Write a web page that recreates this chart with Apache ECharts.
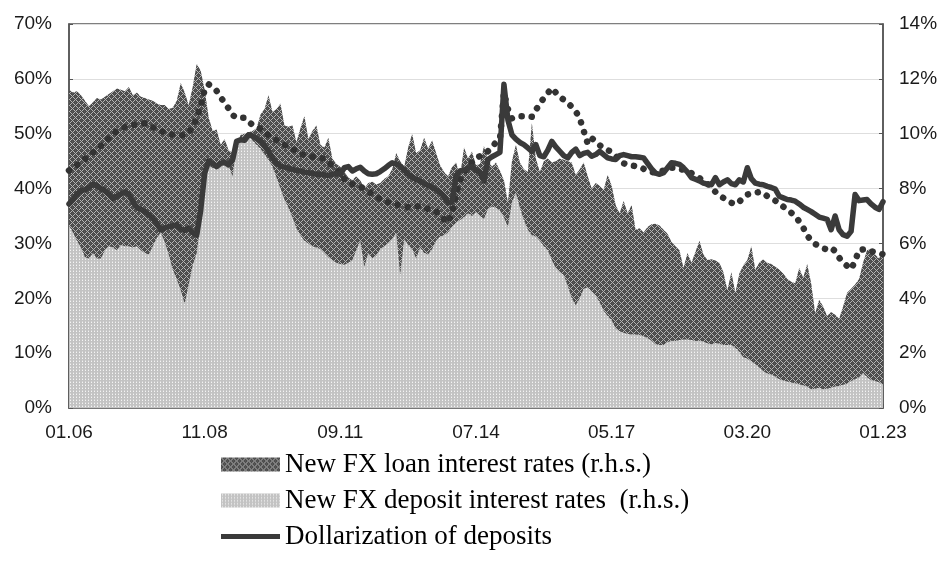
<!DOCTYPE html>
<html>
<head>
<meta charset="utf-8">
<script src="https://cdn.jsdelivr.net/npm/echarts@6/dist/echarts.min.js"></script>
<style>html,body{margin:0;padding:0;background:#fff}#chart{width:941px;height:561px}</style>
</head>
<body>
<div id="chart"></div>
<script>
// Monthly categories 01.06 .. 01.23
var months = [];
for (var y = 6; y <= 23; y++) {
  for (var m = 1; m <= 12; m++) {
    if (y === 23 && m > 1) break;
    months.push((m < 10 ? '0' : '') + m + '.' + (y < 10 ? '0' : '') + y);
  }
}
var leftTicks = [0, 10, 20, 30, 40, 50, 60, 70];
var rightTicks = [0, 2, 4, 6, 8, 10, 12, 14];

// Dollarization of deposits (l.h.s., %)
var dollarDeposits = [37.2,38.0,39.0,39.6,39.8,40.2,40.8,40.5,40.0,39.6,
 39.0,38.2,38.6,39.0,39.4,39.0,37.6,36.6,36.2,35.8,
 35.2,34.6,33.6,32.5,32.8,33.1,33.2,33.4,32.6,32.4,
 32.8,32.0,31.5,36.0,42.8,45.0,44.6,44.0,44.6,44.8,
 44.3,45.2,48.6,48.9,48.8,49.8,49.6,49.1,48.7,47.8,
 46.8,45.6,44.6,44.1,43.9,43.7,43.5,43.3,43.2,43.0,
 42.9,42.8,42.6,42.6,42.5,42.4,42.6,42.7,42.6,43.8,
 44.0,43.2,43.6,43.9,43.2,42.7,42.6,42.7,43.1,43.6,
 44.2,44.7,44.5,44.1,43.4,42.6,42.1,41.7,41.3,40.9,
 40.6,40.2,39.8,39.3,38.6,37.4,37.6,42.3,43.2,43.4,
 43.7,44.0,43.3,43.0,41.4,45.3,45.8,46.2,46.6,59.0,
 52.5,49.8,49.0,48.4,48.0,47.4,46.8,48.0,46.0,45.8,
 47.0,48.6,47.6,46.8,46.0,45.6,46.6,47.2,46.0,46.4,
 46.6,45.9,46.2,46.8,46.2,45.6,45.4,45.3,46.0,46.2,
 46.0,45.8,45.8,45.7,45.6,44.6,43.6,42.8,42.6,42.9,
 43.8,44.7,44.6,44.4,43.8,43.0,42.0,41.7,41.4,41.0,
 40.8,40.7,42.0,40.7,41.2,41.6,40.9,40.7,41.6,41.2,
 43.8,41.8,41.0,40.8,40.7,40.4,40.2,39.9,38.6,38.3,
 38.0,37.9,37.7,37.2,36.6,36.2,35.8,35.3,34.8,34.6,
 34.4,32.5,35.0,32.5,31.6,31.3,32.2,38.9,37.8,37.9,
 38.0,37.2,36.6,36.2,37.6];

// Dotted series (l.h.s., %), not in legend
var dottedSeries = [43.3,43.8,44.3,44.7,45.4,46.0,46.6,47.2,47.8,48.5,
 49.2,49.9,50.5,50.9,51.2,51.4,51.6,51.7,51.8,51.9,
 51.6,51.2,50.8,50.5,50.2,50.0,49.8,49.8,49.7,49.7,
 50.2,51.1,52.9,55.0,58.0,59.0,58.4,57.8,56.6,55.7,
 54.6,53.4,52.9,52.9,52.9,52.2,51.6,51.3,50.9,50.3,
 49.7,49.2,48.8,48.5,48.0,47.5,47.2,46.8,46.3,46.1,
 45.9,45.8,45.7,45.6,45.4,44.8,44.1,43.4,42.9,41.8,
 41.0,40.8,40.6,40.4,39.9,39.5,39.0,38.4,38.1,37.8,
 37.5,37.3,37.1,36.9,36.8,36.6,36.7,36.8,36.8,36.5,
 36.3,36.2,35.8,35.1,34.4,33.8,35.6,39.0,41.5,43.0,
 43.8,44.8,45.6,45.9,46.4,46.8,47.6,48.4,49.0,57.5,
 54.5,52.8,53.0,53.2,53.2,53.2,53.1,54.3,55.5,56.5,
 57.4,58.3,57.5,56.7,56.2,55.6,54.9,54.1,52.8,50.5,
 48.2,49.2,48.6,47.9,47.4,47.0,46.7,46.0,45.2,44.6,
 44.3,44.2,44.1,44.0,43.6,43.3,43.0,42.9,43.0,43.3,
 43.6,43.8,43.8,43.6,43.4,43.2,42.8,42.3,41.9,41.5,
 40.9,40.2,39.4,38.7,38.3,37.8,37.4,37.1,37.6,38.4,
 38.9,39.1,39.2,39.4,39.2,38.6,38.2,37.8,37.4,36.7,
 36.1,35.6,35.0,34.0,32.9,31.4,30.6,29.9,29.5,29.1,
 28.9,29.2,28.6,27.4,26.6,25.9,25.3,26.8,28.8,28.9,
 28.8,28.6,28.4,28.2,28.0];

// New FX loan interest rates (r.h.s., %)
var loanRates = [11.6,11.5,11.55,11.4,11.2,11.0,11.15,11.3,11.25,11.35,
 11.45,11.55,11.65,11.6,11.55,11.7,11.4,11.5,11.35,11.3,
 11.25,11.2,11.1,11.05,11.05,10.9,10.95,11.2,11.85,11.5,
 11.05,11.7,12.55,12.3,11.6,10.6,10.1,10.15,9.6,9.8,
 9.4,9.3,9.6,9.95,10.0,10.05,10.1,10.2,10.7,10.9,
 11.4,10.8,10.9,11.1,10.3,10.25,10.3,9.7,10.2,10.65,
 9.8,10.1,10.3,9.6,9.5,9.85,9.1,8.9,8.8,8.6,
 8.4,8.3,8.45,8.3,8.0,8.2,8.25,8.15,8.2,8.35,
 8.45,8.7,9.3,9.0,8.8,9.5,10.0,9.3,9.4,9.85,
 9.45,9.75,9.3,8.85,8.6,8.45,8.8,8.95,8.45,9.5,
 9.1,9.35,8.85,8.9,9.55,9.05,8.8,8.95,8.65,8.3,
 7.5,9.0,9.6,8.95,8.7,8.6,10.4,9.1,8.6,9.0,
 9.1,8.95,9.0,9.1,9.05,9.0,8.95,8.5,8.7,8.95,
 8.45,8.0,8.2,8.1,7.95,8.5,8.1,7.4,7.1,7.55,
 7.1,7.4,6.5,6.55,6.4,6.6,6.7,6.72,6.65,6.5,
 6.35,6.05,5.9,5.75,5.1,5.65,5.3,5.7,6.1,5.6,
 5.4,5.42,5.38,5.3,4.95,4.3,4.95,4.2,4.9,5.2,
 5.4,5.9,5.05,5.3,5.42,5.3,5.25,5.15,5.05,4.9,
 4.7,4.6,4.55,5.1,4.75,5.25,4.55,3.45,3.95,3.7,
 3.35,3.5,3.4,3.25,3.7,4.2,4.35,4.5,4.7,5.3,
 5.75,5.8,5.6,5.45,5.7];

// New FX deposit interest rates (r.h.s., %)
var depositRates = [6.65,6.4,6.1,5.85,5.5,5.45,5.65,5.45,5.45,5.75,
 5.9,5.85,5.75,5.95,5.9,5.9,5.85,5.9,5.75,5.65,
 5.6,5.9,6.2,6.4,6.05,5.6,5.05,4.7,4.3,3.8,
 4.5,5.2,5.65,6.8,8.1,8.85,8.75,8.78,8.88,8.85,
 8.82,8.45,9.6,9.85,9.9,9.98,9.75,9.6,9.45,9.25,
 9.05,8.8,8.4,8.0,7.6,7.3,6.95,6.55,6.3,6.1,
 6.0,5.9,5.85,5.8,5.65,5.5,5.4,5.3,5.25,5.22,
 5.3,5.4,5.75,6.1,5.15,5.65,5.45,5.55,5.8,5.9,
 6.0,6.15,6.4,4.85,6.15,5.95,5.8,5.45,5.85,5.65,
 5.6,5.8,6.1,6.25,6.3,6.4,6.6,6.75,6.85,6.95,
 7.1,7.0,7.15,7.0,6.9,7.25,7.35,7.3,7.2,6.95,
 6.6,7.5,7.85,7.3,6.85,6.5,6.3,6.25,6.1,5.9,
 5.75,5.4,5.1,4.95,4.85,4.45,4.0,3.75,4.0,4.35,
 4.4,4.25,4.1,3.85,3.55,3.35,3.2,2.9,2.8,2.74,
 2.7,2.68,2.68,2.66,2.62,2.55,2.45,2.32,2.3,2.3,
 2.4,2.45,2.44,2.48,2.5,2.5,2.48,2.44,2.45,2.42,
 2.35,2.32,2.37,2.34,2.3,2.3,2.3,2.2,2.05,1.85,
 1.8,1.7,1.6,1.48,1.35,1.25,1.22,1.15,1.05,1.0,
 0.97,0.93,0.9,0.87,0.82,0.78,0.68,0.7,0.74,0.68,
 0.7,0.74,0.78,0.8,0.85,0.88,0.98,1.05,1.12,1.28,
 1.12,1.02,0.98,0.94,0.85];

var NAME_LOAN = 'New FX loan interest rates (r.h.s.)';
var NAME_DEP = 'New FX deposit interest rates  (r.h.s.)';
var NAME_DOL = 'Dollarization of deposits';
var NAME_DOT = 'Dollarization of loans';

function makeTile(size, base, painter) {
  var c = document.createElement('canvas');
  c.width = size; c.height = size;
  var ctx = c.getContext('2d');
  ctx.fillStyle = base; ctx.fillRect(0, 0, size, size);
  for (var px = 0; px < size; px++) {
    for (var py = 0; py < size; py++) {
      var col = painter(px, py);
      if (col) { ctx.fillStyle = col; ctx.fillRect(px, py, 1, 1); }
    }
  }
  return { image: c, repeat: 'repeat' };
}
// dark crosshatch: dark diamonds separated by light diagonal lattice
var loanPattern = makeTile(6, '#4b4b4b', function (x, y) {
  if ((x + y) % 6 === 0 || ((x - y) + 6) % 6 === 0) return '#b4b4b4';
  if ((x + y) % 6 === 3 && ((x - y) + 6) % 6 === 3) return '#5e5e5e';
  return null;
});
// light dotted
var depPattern = makeTile(3, '#c3c3c3', function (x, y) {
  if (x === 1 && y === 1) return '#f4f4f4';
  if (x === 1 && y === 0) return '#d6d6d6';
  return null;
});

var axisFont = { fontFamily: 'Liberation Sans, Arial, sans-serif', fontSize: 19, color: '#1a1a1a' };

var chart = echarts.init(document.getElementById('chart'), null, { renderer: 'canvas' });
chart.setOption({
  animation: false,
  backgroundColor: '#fff',
  grid: { left: 69, right: 58, top: 24, height: 384, show: true, borderColor: '#555', borderWidth: 1.5, backgroundColor: 'transparent' },
  legend: {
    orient: 'vertical', left: 216, top: 446, itemGap: 9, itemWidth: 59, itemHeight: 14,
    symbolKeepAspect: true,
    textStyle: { fontFamily: 'Liberation Serif, Times New Roman, serif', fontSize: 27, color: '#000', lineHeight: 27 },
    data: [
      { name: NAME_LOAN, icon: 'rect', itemStyle: { color: loanPattern } },
      { name: NAME_DEP, icon: 'rect', itemStyle: { color: depPattern } },
      { name: NAME_DOL, icon: 'path://M0,0H60V5H0Z', itemStyle: { color: '#3a3a3a' } }
    ]
  },
  xAxis: {
    type: 'category', data: months, boundaryGap: false,
    axisLine: { lineStyle: { color: '#555', width: 1.5 } },
    axisTick: { inside: true, interval: 33, length: 4, lineStyle: { color: '#555' } },
    axisLabel: Object.assign({ interval: 33, margin: 15 }, axisFont),
    splitLine: { show: false }
  },
  yAxis: [
    {
      type: 'value', min: leftTicks[0], max: leftTicks[leftTicks.length - 1], interval: 10,
      axisLine: { show: true, lineStyle: { color: '#555', width: 1.5 } },
      axisTick: { show: true, inside: true, length: 4, lineStyle: { color: '#555' } },
      axisLabel: Object.assign({ formatter: '{value}%', margin: 17 }, axisFont),
      splitLine: { show: true, lineStyle: { color: '#dedede', width: 1 } }
    },
    {
      type: 'value', min: rightTicks[0], max: rightTicks[rightTicks.length - 1], interval: 2,
      position: 'right',
      axisLine: { show: true, lineStyle: { color: '#555', width: 1.5 } },
      axisTick: { show: true, inside: true, length: 4, lineStyle: { color: '#555' } },
      axisLabel: Object.assign({ formatter: '{value}%', margin: 16 }, axisFont),
      splitLine: { show: false }
    }
  ],
  series: [
    {
      name: NAME_LOAN, type: 'line', yAxisIndex: 1, data: loanRates, symbol: 'none',
      lineStyle: { width: 0, opacity: 0 }, itemStyle: { color: loanPattern },
      areaStyle: { color: loanPattern, opacity: 1 }, z: 1
    },
    {
      name: NAME_DEP, type: 'line', yAxisIndex: 1, data: depositRates, symbol: 'none',
      lineStyle: { width: 0, opacity: 0 }, itemStyle: { color: depPattern },
      areaStyle: { color: depPattern, opacity: 1 }, z: 2
    },
    {
      name: NAME_DOT, type: 'line', yAxisIndex: 0, data: dottedSeries, symbol: 'none',
      lineStyle: { color: '#333', width: 6.5, type: [0.1, 10], cap: 'round' }, z: 3
    },
    {
      name: NAME_DOL, type: 'line', yAxisIndex: 0, data: dollarDeposits, symbol: 'none',
      lineStyle: { color: '#3a3a3a', width: 5.5, join: 'round', cap: 'round' },
      itemStyle: { color: '#3a3a3a' }, z: 4
    }
  ]
});
</script>
</body>
</html>
